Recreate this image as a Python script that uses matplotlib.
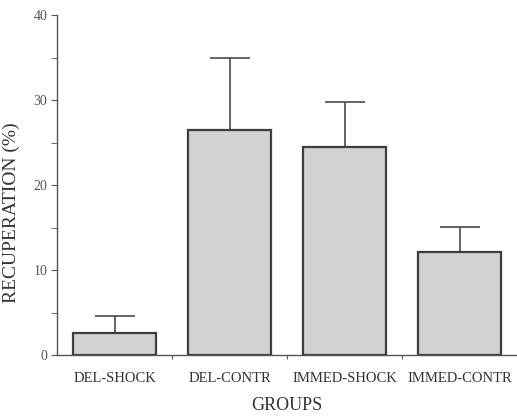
import numpy as np
import matplotlib
matplotlib.use("Agg")
import matplotlib.pyplot as plt

groups = ["DEL-SHOCK", "DEL-CONTR", "IMMED-SHOCK", "IMMED-CONTR"]
means = [2.6, 26.5, 24.5, 12.1]
errs = [2.0, 8.4, 5.3, 3.0]

plt.rcParams['font.family'] = ['Liberation Serif', 'DejaVu Serif']

fig = plt.figure(figsize=(5.17, 4.2), dpi=100)
ax = fig.add_axes([57 / 517, 1 - 355 / 420, 460 / 517, 340 / 420])

x = np.arange(len(groups)) + 0.5
ax.bar(x, means, width=0.72, color='#d2d2d2', edgecolor='#3e3e3e', linewidth=1.6,
       zorder=2)
ax.errorbar(x, means, yerr=[np.zeros(len(errs)), errs], fmt='none', ecolor='#4a4a4a',
            elinewidth=1.2, capsize=14.5, capthick=1.2, zorder=1)

ax.set_xlim(0, 4)
ax.set_ylim(0, 40)
ax.spines['top'].set_visible(False)
ax.spines['right'].set_visible(False)
for s in ['left', 'bottom']:
    ax.spines[s].set_color('#555555')
    ax.spines[s].set_linewidth(1.0)

ax.set_yticks([0, 10, 20, 30, 40])
ax.set_yticks(np.arange(0, 41, 5), minor=True)
ax.set_xticks([1, 2, 3])
ax.set_xticklabels([])
ax.set_xticks(x, minor=True)
ax.set_xticklabels(groups, minor=True, fontsize=10.5, color='#333333')
ax.tick_params(axis='x', which='minor', length=0, pad=12)
ax.tick_params(axis='x', which='major', length=3, direction='out', color='#555555')
ax.tick_params(axis='y', which='both', length=4, direction='out', color='#555555',
               labelsize=10, labelcolor='#555555', pad=3)

ax.set_ylabel("RECUPERATION (%)", fontsize=14, color='#333333')
ax.yaxis.set_label_coords(-0.08, 0.42)
ax.set_xlabel("GROUPS", fontsize=13, color='#333333', labelpad=9)

fig.savefig("out.png", dpi=100)
